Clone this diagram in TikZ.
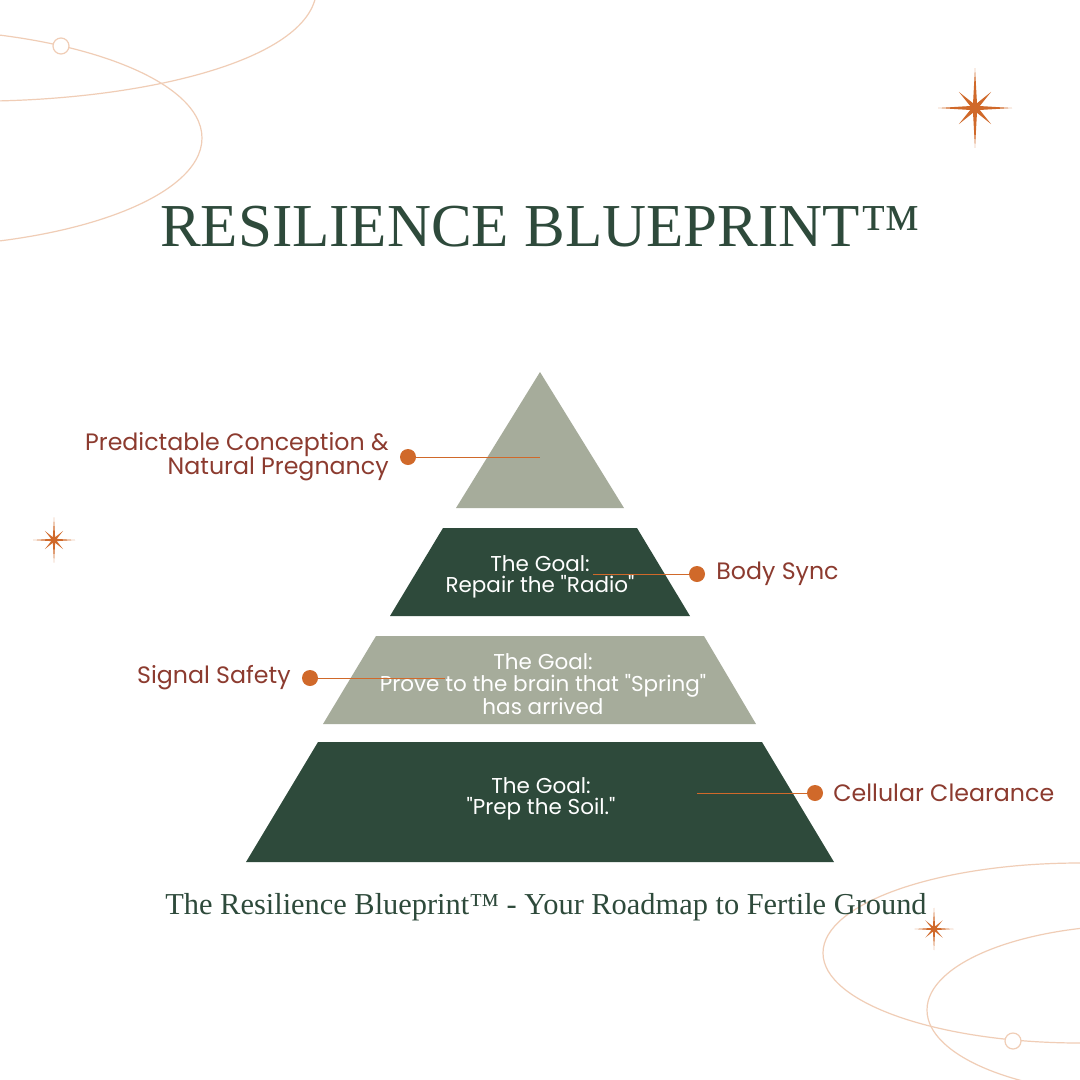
\documentclass[tikz,border=0pt]{standalone}
\usepackage{fontspec}
\setmainfont{Liberation Serif}
\newfontfamily\labelfont{Poppins}
\usetikzlibrary{positioning,calc}

\definecolor{pinegreen}{HTML}{2E4A3B}
\definecolor{sage}{HTML}{A6AC9B}
\definecolor{rust}{HTML}{D0692A}
\definecolor{brick}{HTML}{8C3B2F}
\definecolor{peach}{HTML}{F0CDB6}

\tikzset{
  goal/.style={font=\labelfont\fontsize{21.5}{21.5}\selectfont, text=white, align=center, inner sep=0pt},
  lbl/.style={font=\labelfont\fontsize{23.7}{24}\selectfont, text=brick, inner sep=0pt},
  dot/.style={circle, fill=rust, minimum size=16pt, inner sep=0pt},
  lead/.style={rust, line width=0.8pt},
  orbit/.style={peach, line width=1.2pt},
  bead/.style={circle, draw=peach, fill=white, line width=1.2pt, minimum size=16pt, inner sep=0pt},
  sparkle/.pic={
    \fill[rust] (0:1) -- (22.5:0.14) -- (45:0.62) -- (67.5:0.14) -- (90:1.08) -- (112.5:0.14)
      -- (135:0.62) -- (157.5:0.14) -- (180:1) -- (202.5:0.14) -- (225:0.62) -- (247.5:0.14)
      -- (270:1.08) -- (292.5:0.14) -- (315:0.62) -- (337.5:0.14) -- cycle;
  }
}

\begin{document}
\begin{tikzpicture}[x=1pt,y=-1pt]
	
	\useasboundingbox[fill=white] (0,0) rectangle (1080,1080);
	
	% orbits in the corners
	\begin{scope}
		\clip (0,0) rectangle (1080,1080);
		\draw[orbit] (-100,138) ellipse [x radius=302pt, y radius=109pt];
		\draw[orbit] (-5,101) .. controls (150,98) and (305,60) .. (316,-5);
		\draw[orbit] (1080,953) ellipse [x radius=257pt, y radius=90pt];
		\draw[orbit] (1140,1010) ellipse [x radius=213pt, y radius=85pt];
	\end{scope}
	\node[bead] (beadtop) at (61,46) {};
	\node[bead] (beadbottom) at (1013,1041) {};
	
	% sparkles
	\pic[scale=37] at (975,108) {sparkle};
	\pic[scale=21] at (54,540) {sparkle};
	\pic[scale=19.5] at (934,929) {sparkle};
	
	% title
	\node[font=\fontsize{61}{61}\selectfont, text=pinegreen, anchor=base, inner sep=0pt] (title) at (540,246) {RESILIENCE BLUEPRINT™};
	
	% pyramid tiers
	\fill[sage] (540,372) -- (624,508) -- (456,508) -- cycle;
	\fill[pinegreen] (443,528) -- (637,528) -- (690,616) -- (390,616) -- cycle;
	\fill[sage] (376,636) -- (704,636) -- (756,724) -- (323,724) -- cycle;
	\fill[pinegreen] (318,742) -- (762,742) -- (834,862) -- (246,862) -- cycle;
	
	% goals
	\node[goal] (goalsync) at (540,577) {The Goal:\\Repair the "Radio"};
	\node[goal] (goalsafety) at (543,684) {The Goal:\\Prove to the brain that "Spring"\\has arrived};
	\node[goal] (goalclear) at (541,799) {The Goal:\\"Prep the Soil."};
	
	% leader ends
	\coordinate (apexend) at (540,457);
	\coordinate (syncend) at (593,574);
	\coordinate (safetyend) at (445,678);
	\coordinate (clearend) at (697,793);
	
	% dots and labels
	\node[dot] (dotapex) at (408,457) {};
	\node[dot] (dotsync) at (697,574) {};
	\node[dot] (dotsafety) at (310,678) {};
	\node[dot] (dotclear) at (815,793) {};
	
	\draw[lead] (dotapex) -- (apexend);
	\draw[lead] (syncend) -- (dotsync);
	\draw[lead] (dotsafety) -- (safetyend);
	\draw[lead] (clearend) -- (dotclear);
	
	\node[lbl, align=right, left=11pt of dotapex] (lblapex) {Predictable Conception \&\\Natural Pregnancy};
	\node[lbl, right=11pt of dotsync] (lblsync) {Body Sync};
	\node[lbl, left=11pt of dotsafety] (lblsafety) {Signal Safety};
	\node[lbl, right=10pt of dotclear] (lblclear) {Cellular Clearance};
	
	% caption
	\node[font=\fontsize{30.4}{30.4}\selectfont, text=pinegreen, anchor=base, inner sep=0pt] (subtitle) at (546,914) {The Resilience Blueprint™ - Your Roadmap to Fertile Ground};
	
\end{tikzpicture}
\end{document}
